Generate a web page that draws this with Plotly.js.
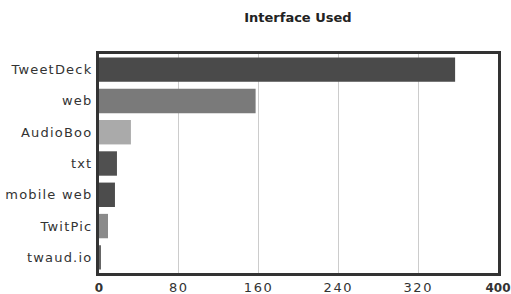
<!DOCTYPE html>
<html>
<head>
<meta charset="utf-8">
<script src="https://cdn.plot.ly/plotly-3.0.1.min.js"></script>
<style>
html,body{margin:0;padding:0;background:#fff;}
#chart{width:511px;height:294px;}
#chart .ytick text{letter-spacing:1.2px;}
#chart .xtick text{letter-spacing:1.6px;}
</style>
</head>
<body>
<div id="chart"></div>
<script>
var categories = ["TweetDeck", "web", "AudioBoo", "txt", "mobile web", "TwitPic", "twaud.io"];
var counts = [357, 157, 32, 18, 16, 9, 2];
var barColors = ["#4a4a4a", "#7a7a7a", "#aaaaaa", "#505050", "#4c4c4c", "#8a8a8a", "#666666"];
var tickValues = [0, 80, 160, 240, 320, 400];
var tickLabels = ["<span style='font-weight:bold;font-size:12px;letter-spacing:0px'>0</span>", "80", "160", "240", "320", "<span style='font-weight:bold;font-size:12px;letter-spacing:0px'>400</span>"];

var trace = {
  type: "bar",
  orientation: "h",
  y: categories,
  x: counts,
  marker: {color: barColors, line: {width: 0}},
  hoverinfo: "none"
};

var layout = {
  width: 511, height: 294,
  margin: {l: 99, r: 13, t: 54, b: 21, pad: 0},
  paper_bgcolor: "#fff", plot_bgcolor: "#fff",
  showlegend: false,
  bargap: 0.22,
  font: {family: "DejaVu Sans, sans-serif", size: 13, color: "#333"},
  title: {text: "<b>Interface Used</b>", font: {size: 13, color: "#222"}, x: 0.583, xanchor: "center", yref: "container", y: 0.942, yanchor: "middle"},
  xaxis: {
    range: [0, 400], tickvals: tickValues, ticktext: tickLabels,
    showgrid: true, gridcolor: "#cccccc", gridwidth: 1,
    zeroline: false, showline: true, linecolor: "#333", linewidth: 3, mirror: true,
    ticks: "", ticklabeloverflow: "allow", tickfont: {size: 13, color: "#333"}, fixedrange: true
  },
  yaxis: {
    autorange: "reversed", showgrid: false, zeroline: false,
    showline: true, linecolor: "#333", linewidth: 3, mirror: true,
    ticks: "", ticklabelstandoff: 1, tickfont: {size: 13, color: "#333"}, fixedrange: true
  }
};

Plotly.newPlot("chart", [trace], layout, {staticPlot: true, displayModeBar: false});
</script>
</body>
</html>
